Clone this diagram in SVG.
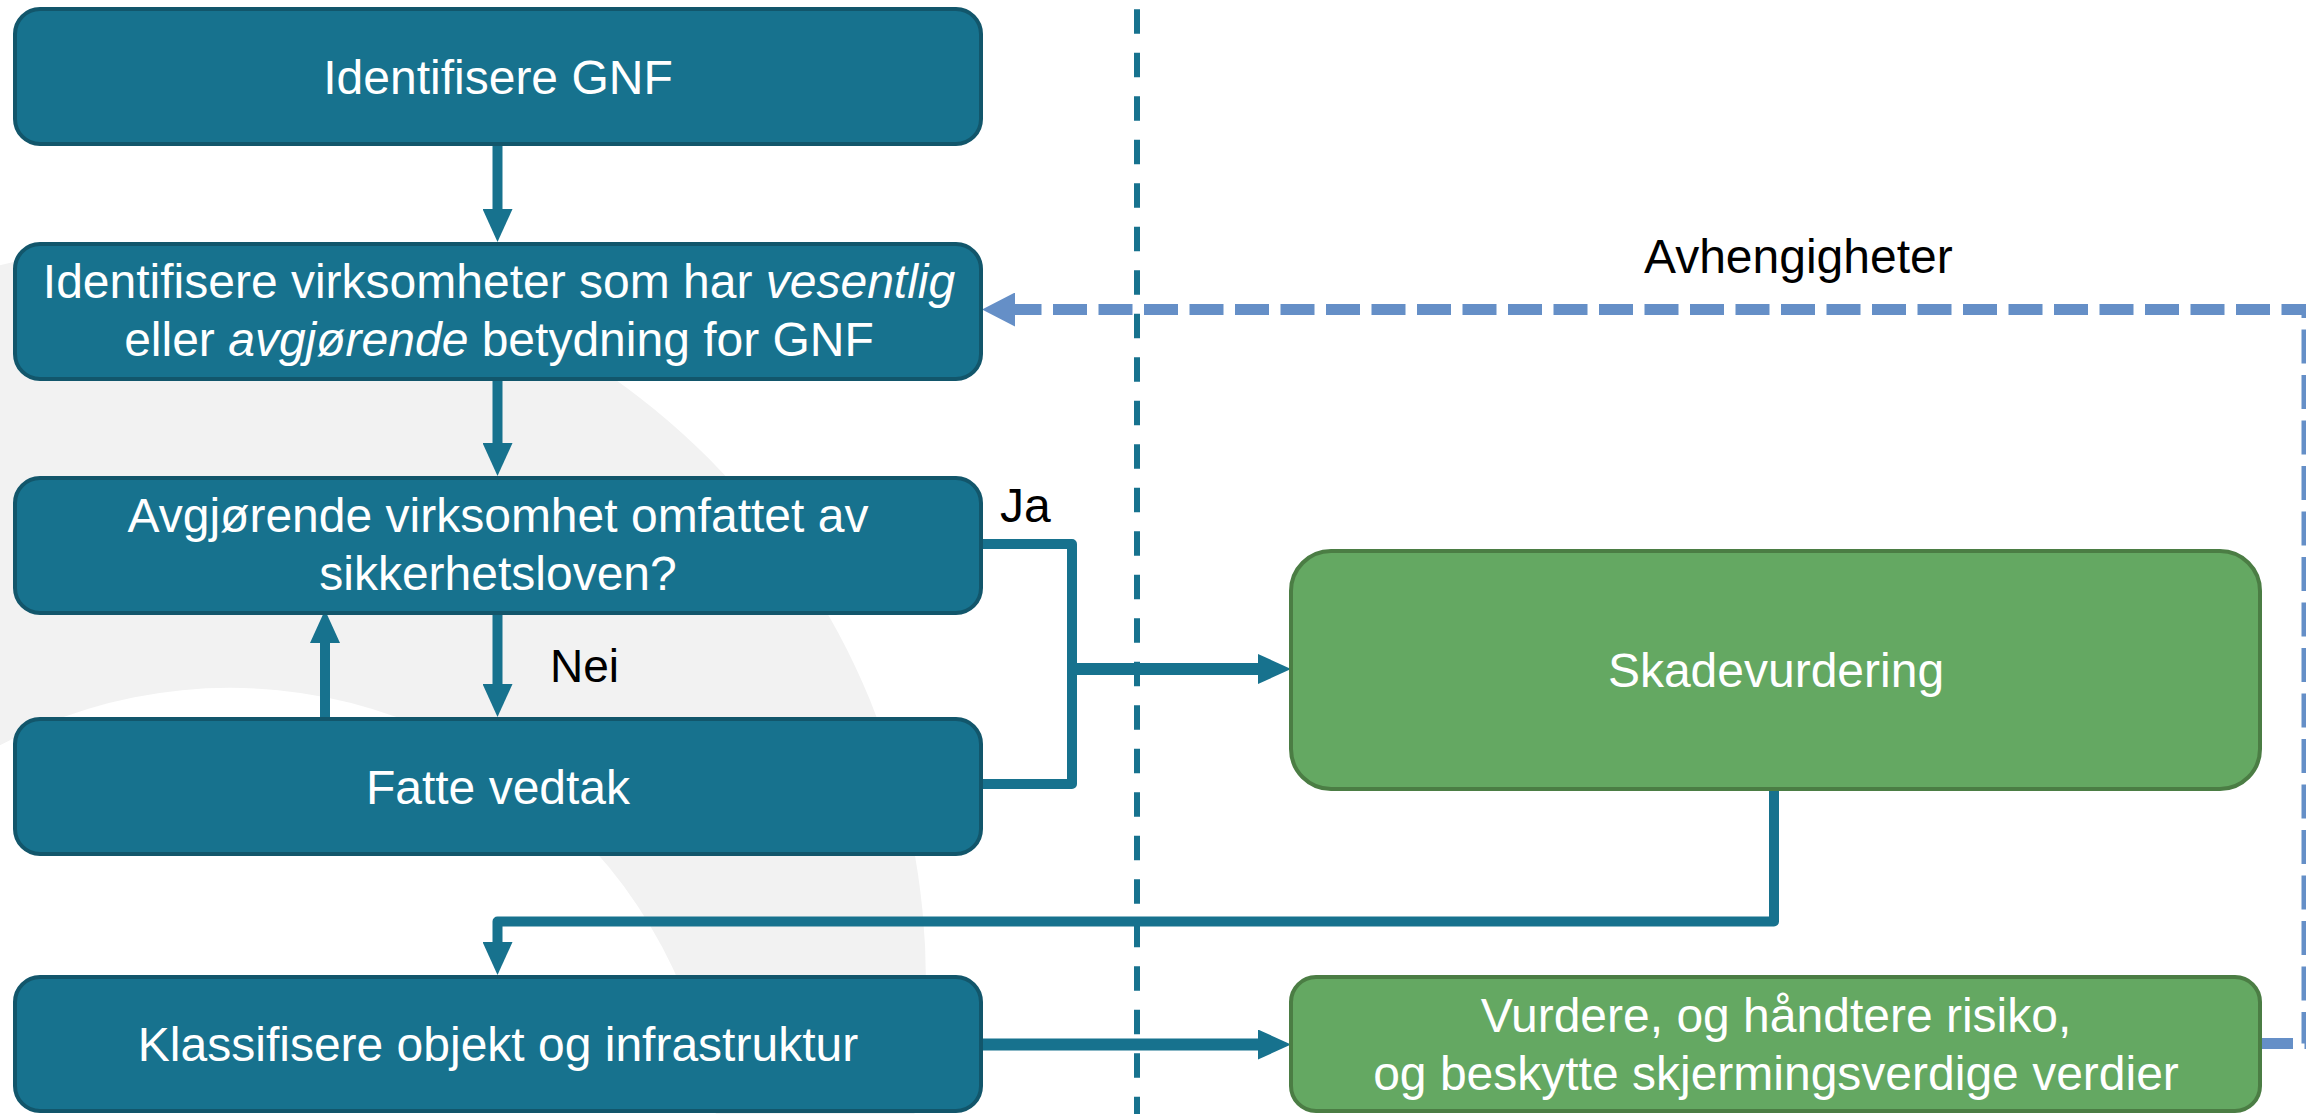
<svg xmlns="http://www.w3.org/2000/svg" width="2306" height="1114" viewBox="0 0 2306 1114">
<style>
.teal{fill:#17728E;stroke:#12566B;stroke-width:4}
.green{fill:#64A862;stroke:#4B7D44;stroke-width:4}
.t{font-family:"Liberation Sans",Arial,sans-serif;font-size:48px;fill:#FFFFFF;text-anchor:middle}
.lbl{font-family:"Liberation Sans",Arial,sans-serif;font-size:48px;fill:#000000}
.conn{fill:none;stroke:#17728E;stroke-width:10;stroke-linejoin:round}
.dep{fill:none;stroke:#658FC7;stroke-width:11;stroke-dasharray:34 11.5}
</style>
<defs>
<marker id="ah" viewBox="0 0 33 30" markerWidth="33" markerHeight="30" refX="0" refY="15" orient="auto" markerUnits="userSpaceOnUse">
<path d="M0,0 L33,15 L0,30 z" fill="#17728E"/>
</marker>
<marker id="ahb" viewBox="0 0 33 34" markerWidth="33" markerHeight="34" refX="0" refY="17" orient="auto" markerUnits="userSpaceOnUse">
<path d="M0,0 L33,17 L0,34 z" fill="#658FC7"/>
</marker>
</defs>
<rect width="2306" height="1114" fill="#FFFFFF"/>
<path d="M-556,983 A741,741 0 1,0 926,983 A741,741 0 1,0 -556,983 Z M-260,1178 A490,490 0 1,0 720,1178 A490,490 0 1,0 -260,1178 Z" fill="#F2F2F2" fill-rule="evenodd"/>
<line x1="1137" y1="0" x2="1137" y2="1114" stroke="#17728E" stroke-width="6" stroke-dasharray="24.5 19" stroke-dashoffset="34.2"/>
<g id="connectors">
<path class="conn" d="M497.5,146 V209" marker-end="url(#ah)"/>
<path class="conn" d="M497.5,381 V443" marker-end="url(#ah)"/>
<path class="conn" d="M497.5,615 V684" marker-end="url(#ah)"/>
<path class="conn" d="M325,717 V643" marker-end="url(#ah)"/>
<path class="conn" d="M983,544 H1072 V784 H983"/>
<path class="conn" d="M1072,669 H1258" style="stroke-width:12" marker-end="url(#ah)"/>
<path class="conn" d="M1774,791 V921.5 H497.5 V942" marker-end="url(#ah)"/>
<path class="conn" d="M983,1044.5 H1258" style="stroke-width:12" marker-end="url(#ah)"/>
<path class="dep" d="M2259,1043.5 H2307 V309.5 H1015" marker-end="url(#ahb)"/>
</g>
<g id="n1"><rect class="teal" x="15" y="9" width="966" height="135" rx="25"/><text class="t" x="498" y="94">Identifisere GNF</text></g>
<g id="n2"><rect class="teal" x="15" y="244" width="966" height="135" rx="25"/><text class="t" x="499" y="298">Identifisere virksomheter som har <tspan font-style="italic">vesentlig</tspan></text><text class="t" x="499" y="356">eller <tspan font-style="italic">avgjørende</tspan> betydning for GNF</text></g>
<g id="n3"><rect class="teal" x="15" y="478" width="966" height="135" rx="25"/><text class="t" x="498" y="532">Avgjørende virksomhet omfattet av</text><text class="t" x="498" y="590">sikkerhetsloven?</text></g>
<g id="n4"><rect class="teal" x="15" y="719" width="966" height="135" rx="25"/><text class="t" x="498" y="804">Fatte vedtak</text></g>
<g id="n5"><rect class="teal" x="15" y="977" width="966" height="134" rx="25"/><text class="t" x="498" y="1061">Klassifisere objekt og infrastruktur</text></g>
<g id="n6"><rect class="green" x="1291" y="551" width="969" height="238" rx="40"/><text class="t" x="1776" y="687">Skadevurdering</text></g>
<g id="n7"><rect class="green" x="1291" y="977" width="969" height="134" rx="25"/><text class="t" x="1776" y="1032">Vurdere, og håndtere risiko,</text><text class="t" x="1776" y="1090">og beskytte skjermingsverdige verdier</text></g>
<text class="lbl" x="1000" y="522">Ja</text>
<text class="lbl" x="550" y="682" style="font-size:46px">Nei</text>
<text class="lbl" x="1644" y="273">Avhengigheter</text>
</svg>
